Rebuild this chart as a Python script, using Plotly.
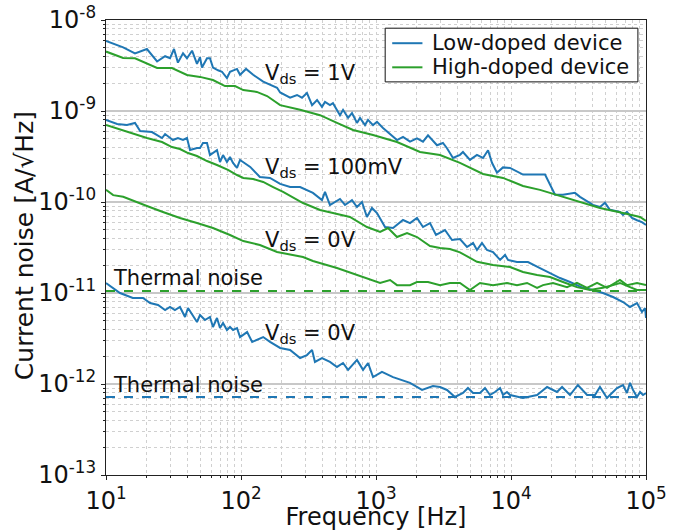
import plotly.graph_objects as go

# ---------------- data ----------------
f_low_1V = [10, 13.4, 16.4, 20.1, 23.9, 27.4, 29.8, 31.9, 34.1, 37.2, 39.8, 43.4, 47.2, 49.7, 51.4,
            56.0, 58.9, 62.0, 67.6, 72.3, 78.7, 82.9, 93.4, 98.4, 109, 123, 146, 164, 185, 195,
            231, 260, 283, 308, 336, 366, 398, 419, 456, 480, 541, 570, 621, 664, 723,
            761, 829, 873, 951, 1017, 1127, 1431, 1585, 1786, 2012, 2229, 2428, 2831, 3133, 3357,
            3717, 4188, 4407, 4965, 5596, 6204, 6761, 7230, 7874, 8726, 9840, 12274, 17870, 21190, 24270,
            29770, 32430, 40460, 45600, 49660, 54080, 64120, 67550, 72270, 78750, 85790, 93330, 100000]
i_low_1V = [5.9e-9, 5.0e-9, 4.3e-9, 4.8e-9, 3.5e-9, 4.0e-9, 3.8e-9, 4.8e-9, 3.4e-9, 4.3e-9,
            3.8e-9, 4.6e-9, 3.3e-9, 3.9e-9, 3.0e-9, 3.8e-9, 3.8e-9, 3.0e-9, 2.8e-9, 2.7e-9,
            2.3e-9, 2.7e-9, 2.9e-9, 2.5e-9, 2.9e-9, 2.5e-9, 2.1e-9, 1.95e-9, 1.8e-9, 1.6e-9,
            1.4e-9, 1.5e-9, 1.4e-9, 1.58e-9, 1.16e-9, 1.32e-9, 1.11e-9, 1.26e-9, 1.16e-9, 1.22e-9,
            9.0e-10, 1.03e-9, 8.4e-10, 9.5e-10, 7.4e-10, 8.4e-10, 7.0e-10, 8.0e-10, 7.0e-10, 7.6e-10,
            6.5e-10, 4.8e-10, 5.2e-10, 4.6e-10, 5.0e-10, 4.6e-10, 5.4e-10, 4.2e-10, 4.45e-10, 3.9e-10,
            3.05e-10, 3.3e-10, 3.54e-10, 2.9e-10, 3.3e-10, 3.05e-10, 3.7e-10, 2.7e-10, 2.1e-10, 2.4e-10,
            2.37e-10, 2.0e-10, 2.0e-10, 1.2e-10, 1.2e-10, 1.26e-10, 1.14e-10, 9.3e-11, 8.8e-11, 9.8e-11,
            8.2e-11, 7.8e-11, 7.2e-11, 7.8e-11, 6.7e-11, 6.3e-11, 6.0e-11, 5.6e-11]

f_high_1V = [10, 13.4, 16.4, 23.9, 30.8, 39.8, 49.7, 62.0, 76.1, 90.3, 104, 131, 156, 195, 274,
             385, 514, 676, 951, 1431, 2118, 2979, 4188, 6204, 8726, 12274, 16400, 21900, 34100,
             45600, 67550, 90300, 100000]
i_high_1V = [4.5e-9, 3.82e-9, 3.8e-9, 2.97e-9, 2.97e-9, 2.49e-9, 2.37e-9, 2.19e-9, 1.88e-9, 1.88e-9,
             1.70e-9, 1.62e-9, 1.46e-9, 1.16e-9, 1.03e-9, 9.0e-10, 7.4e-10, 6.18e-10, 5.45e-10, 4.56e-10,
             3.54e-10, 3.28e-10, 2.69e-10, 2.03e-10, 1.84e-10, 1.50e-10, 1.36e-10, 1.19e-10, 9.75e-11,
             8.6e-11, 7.57e-11, 6.84e-11, 6.18e-11]

f_low_100mV = [10, 12.1, 14.3, 16.4, 17.9, 21.9, 26.0, 27.4, 31.3, 34.1, 37.2, 39.8, 41.9, 47.2, 49.7,
               52.3, 56.0, 58.9, 66.4, 69.9, 73.6, 78.7, 82.9, 87.3, 93.4, 98.4, 117, 138, 164, 195,
               231, 274, 341, 398, 419, 456, 541, 589, 664, 723, 787, 857, 933, 1017, 1167,
               1337, 1585, 1786, 2012, 2229, 2512, 2782, 3243, 3656, 4188, 4721, 5236, 5596, 6095, 6637,
               7362, 8299, 9036, 9510, 11070, 13360, 16400, 19450, 23070, 27350, 34100, 40460, 47950,
               57000, 67550, 76100, 85790, 93330, 98400, 100000]
i_low_100mV = [7.96e-10, 7.2e-10, 7.02e-10, 7.38e-10, 6.03e-10, 5.87e-10, 5.05e-10, 5.58e-10, 4.80e-10, 5.05e-10,
               4.80e-10, 5.05e-10, 3.72e-10, 3.92e-10, 3.92e-10, 4.45e-10, 4.45e-10, 3.28e-10, 3.72e-10, 2.75e-10,
               3.28e-10, 2.75e-10, 3.12e-10, 2.69e-10, 2.37e-10, 2.90e-10, 2.43e-10, 1.88e-10, 1.84e-10, 1.58e-10,
               1.46e-10, 1.46e-10, 1.26e-10, 1.05e-10, 1.29e-10, 9.27e-11, 1.08e-10, 9.27e-11, 1.05e-10, 8.81e-11,
               1.0e-10, 6.84e-11, 8.6e-11, 7.57e-11, 5.31e-11, 5.18e-11, 6.34e-11, 5.87e-11, 6.67e-11, 5.31e-11,
               5.87e-11, 4.34e-11, 4.92e-11, 3.82e-11, 3.92e-11, 3.20e-11, 3.54e-11, 2.97e-11, 3.54e-11, 2.97e-11,
               2.82e-11, 2.31e-11, 2.62e-11, 2.31e-11, 2.19e-11, 2.19e-11, 1.88e-11, 1.66e-11, 1.46e-11, 1.32e-11,
               1.14e-11, 1.08e-11, 1.0e-11, 9.04e-12, 7.96e-12, 7.02e-12, 7.76e-12, 6.18e-12, 6.84e-12, 5.31e-12]

f_high_100mV = [10, 14.3, 20.1, 26.0, 30.8, 35.3, 40.5, 47.2, 56.0, 66.4, 80.1, 93.4, 104, 123, 146,
                173, 205, 288, 385, 480, 641, 857, 1072, 1228, 1431, 1698, 2012, 2512, 2979, 3532,
                4188, 5596, 7362, 9840, 12274, 15600, 19450, 24270, 30800, 38460, 47950, 57000, 64120,
                76100, 85790, 100000]
i_high_100mV = [7.02e-10, 5.87e-10, 5.05e-10, 4.56e-10, 4.02e-10, 3.82e-10, 3.45e-10, 3.20e-10, 2.82e-10, 2.55e-10,
                2.25e-10, 1.98e-10, 1.84e-10, 1.79e-10, 1.66e-10, 1.46e-10, 1.29e-10, 9.75e-11, 8.17e-11, 7.57e-11,
                6.84e-11, 5.31e-11, 4.68e-11, 5.18e-11, 4.12e-11, 4.56e-11, 4.12e-11, 3.28e-11, 3.12e-11, 3.05e-11,
                2.8e-11, 2.2e-11, 2.03e-11, 1.93e-11, 1.70e-11, 1.58e-11, 1.50e-11, 1.32e-11, 1.16e-11, 1.08e-11,
                1.14e-11, 1.22e-11, 1.29e-11, 1.16e-11, 1.08e-11, 1.08e-11]

f_high_0V = [10, 11.3, 13.4, 15.8, 20.1, 26.4, 35.3, 47.2, 62.0, 82.9, 104, 138, 185, 288, 341,
             514, 723, 903, 1072, 1271, 1431, 1786, 2012, 2428, 2979, 3532, 4188, 4965, 5893, 7362,
             9333, 11070, 13150, 15600, 17260, 20470, 26000, 30800, 36600, 43400, 51400, 64120, 72270,
             85790, 100000]
i_high_0V = [1.36e-10, 1.19e-10, 1.14e-10, 1.03e-10, 9.04e-11, 7.77e-11, 6.67e-11, 5.87e-11, 5.18e-11, 4.34e-11,
             3.72e-11, 3.37e-11, 2.82e-11, 2.49e-11, 2.25e-11, 1.88e-11, 1.58e-11, 1.39e-11, 1.29e-11, 1.39e-11,
             1.22e-11, 1.22e-11, 1.32e-11, 1.32e-11, 1.22e-11, 1.29e-11, 1.29e-11, 1.08e-11, 1.29e-11, 1.22e-11,
             1.29e-11, 1.22e-11, 1.29e-11, 1.14e-11, 1.22e-11, 1.29e-11, 1.16e-11, 1.29e-11, 1.14e-11, 1.29e-11,
             1.14e-11, 1.39e-11, 1.22e-11, 1.29e-11, 1.22e-11]

f_low_0V = [10, 11.3, 12.7, 15.8, 18.8, 21.2, 24.3, 27.4, 29.8, 32.4, 35.3, 38.5, 40.5, 47.2, 49.7,
            54.1, 58.9, 62.0, 66.4, 69.9, 73.6, 78.7, 82.9, 87.3, 93.4, 98.4, 111, 121, 146, 164,
            195, 231, 274, 308, 336, 353, 398, 456, 514, 570, 621, 723, 802, 873, 951,
            1107, 1337, 1786, 2193, 2642, 2979, 3357, 3846, 4407, 4800, 5236, 5893, 6418, 6988, 7607,
            8299, 8726, 9333, 9840, 12274, 15600, 18500, 21900, 23900, 27350, 31300, 36600, 41900, 45600,
            51400, 54080, 61000, 67550, 72270, 76100, 80200, 85790, 90300, 95000, 100000]
i_low_0V = [1.29e-11, 1.14e-11, 1.0e-11, 8.81e-12, 8.81e-12, 7.76e-12, 7.38e-12, 6.50e-12, 7.02e-12, 6.50e-12,
            7.02e-12, 5.45e-12, 6.84e-12, 4.80e-12, 5.73e-12, 5.05e-12, 5.45e-12, 4.23e-12, 5.31e-12, 4.12e-12,
            4.68e-12, 3.92e-12, 4.23e-12, 3.92e-12, 4.12e-12, 3.28e-12, 3.72e-12, 2.90e-12, 3.28e-12, 2.90e-12,
            2.49e-12, 2.37e-12, 1.93e-12, 2.08e-12, 2.37e-12, 1.75e-12, 1.93e-12, 1.75e-12, 1.54e-12, 1.70e-12,
            1.43e-12, 1.84e-12, 1.43e-12, 1.70e-12, 1.19e-12, 1.36e-12, 1.19e-12, 1.03e-12, 8.6e-13, 9.51e-13,
            9.27e-13, 8.6e-13, 7.20e-13, 7.96e-13, 9.04e-13, 7.96e-13, 7.96e-13, 9.04e-13, 7.57e-13, 8.17e-13,
            9.04e-13, 7.57e-13, 8.17e-13, 7.57e-13, 7.02e-13, 7.57e-13, 9.27e-13, 8.17e-13, 9.27e-13, 7.57e-13,
            9.75e-13, 7.57e-13, 7.57e-13, 9.27e-13, 7.02e-13, 7.57e-13, 9.04e-13, 9.75e-13, 7.96e-13, 1.03e-12,
            8.6e-13, 7.2e-13, 8.17e-13, 7.57e-13, 7.96e-13]

f_thermal = [10, 100000]
i_thermal_high = [1.05e-11, 1.05e-11]
i_thermal_low = [7.2e-13, 7.2e-13]

x_tickvals = [10, 100, 1000, 10000, 100000]
x_ticktext = ["10<sup>1</sup>", "10<sup>2</sup>", "10<sup>3</sup>", "10<sup>4</sup>", "10<sup>5</sup>"]
y_tickvals = [1e-13, 1e-12, 1e-11, 1e-10, 1e-9, 1e-8]
y_ticktext = ["10<sup>-13</sup>", "10<sup>-12</sup>", "10<sup>-11</sup>",
              "10<sup>-10</sup>", "10<sup>-9</sup>", "10<sup>-8</sup>"]

legend_names = ["Low-doped device", "High-doped device"]

BLUE = "#1f77b4"
GREEN = "#2ca02c"
FONT = "DejaVu Sans"
TXT = "#111111"

fig = go.Figure()

def add(f, i, color, dash="solid"):
    fig.add_trace(go.Scatter(
        x=f, y=i, mode="lines", line=dict(color=color, width=2, dash=dash),
        showlegend=False, hoverinfo="skip"))

add(f_low_1V, i_low_1V, BLUE)
add(f_high_1V, i_high_1V, GREEN)
add(f_low_100mV, i_low_100mV, BLUE)
add(f_high_100mV, i_high_100mV, GREEN)
add(f_high_0V, i_high_0V, GREEN)
add(f_low_0V, i_low_0V, BLUE)
add(f_thermal, i_thermal_high, GREEN, dash="dash")
add(f_thermal, i_thermal_low, BLUE, dash="dash")

# text labels inside the axes
labels = [
    ("V<sub>ds</sub> = 1V", 0.291, 0.881),
    ("V<sub>ds</sub> = 100mV", 0.291, 0.675),
    ("V<sub>ds</sub> = 0V", 0.291, 0.514),
    ("Thermal noise", 0.010, 0.433),
    ("V<sub>ds</sub> = 0V", 0.291, 0.310),
    ("Thermal noise", 0.010, 0.198),
]
for text, ax, ay in labels:
    fig.add_annotation(text=text, x=ax, y=ay, xref="paper", yref="paper",
                       xanchor="left", yanchor="middle", showarrow=False,
                       font=dict(family=FONT, size=21, color=TXT))

# legend box (paper coordinates, compact spacing as in the reference)
fig.add_shape(type="rect", xref="paper", yref="paper", x0=0.517, x1=0.985, y0=0.864, y1=0.982,
              line=dict(color=TXT, width=1), fillcolor="white", layer="above")
for k, (name, color) in enumerate(zip(legend_names, [BLUE, GREEN])):
    yy = 0.949 - k * 0.053
    fig.add_shape(type="line", xref="paper", yref="paper", x0=0.530, x1=0.586, y0=yy, y1=yy,
                  line=dict(color=color, width=2), layer="above")
    fig.add_annotation(text=name, x=0.600, y=yy, xref="paper", yref="paper",
                       xanchor="left", yanchor="middle", showarrow=False,
                       font=dict(family=FONT, size=21, color=TXT))

# y-axis title
fig.add_annotation(text="Current noise [A/√Hz]", x=-0.152, y=0.505, xref="paper", yref="paper",
                   xanchor="center", yanchor="middle", textangle=-90, showarrow=False,
                   font=dict(family=FONT, size=25, color=TXT))

axis_common = dict(
    type="log", showline=True, mirror=True, linecolor="#222", linewidth=1.2,
    ticks="outside", ticklen=4, tickwidth=1, tickcolor="#222",
    tickfont=dict(family=FONT, size=24, color=TXT),
    zeroline=False,
)

fig.update_xaxes(
    **axis_common,
    range=[1, 5], tickvals=x_tickvals, ticktext=x_ticktext,
    showgrid=True, gridcolor="#d0d0d0", griddash="dot", gridwidth=1,
    minor=dict(dtick="D1", ticks="outside", ticklen=2, tickcolor="#222",
               showgrid=True, gridcolor="#d0d0d0", griddash="dot", gridwidth=1),
    title=dict(text="Frequency [Hz]", font=dict(family=FONT, size=24, color=TXT), standoff=0),
)
fig.update_yaxes(
    **axis_common,
    range=[-13, -8], tickvals=y_tickvals, ticktext=y_ticktext,
    showgrid=True, gridcolor="#c8c8c8", gridwidth=1.5,
    minor=dict(dtick="D1", ticks="outside", ticklen=2, tickcolor="#222",
               showgrid=True, gridcolor="#d0d0d0", griddash="dot", gridwidth=1),
)

fig.update_layout(
    width=678, height=531,
    margin=dict(l=106, r=32, t=20, b=56, autoexpand=False),
    paper_bgcolor="white", plot_bgcolor="white",
    font=dict(family=FONT, color=TXT),
    showlegend=False,
)

fig.write_html("out.html")
